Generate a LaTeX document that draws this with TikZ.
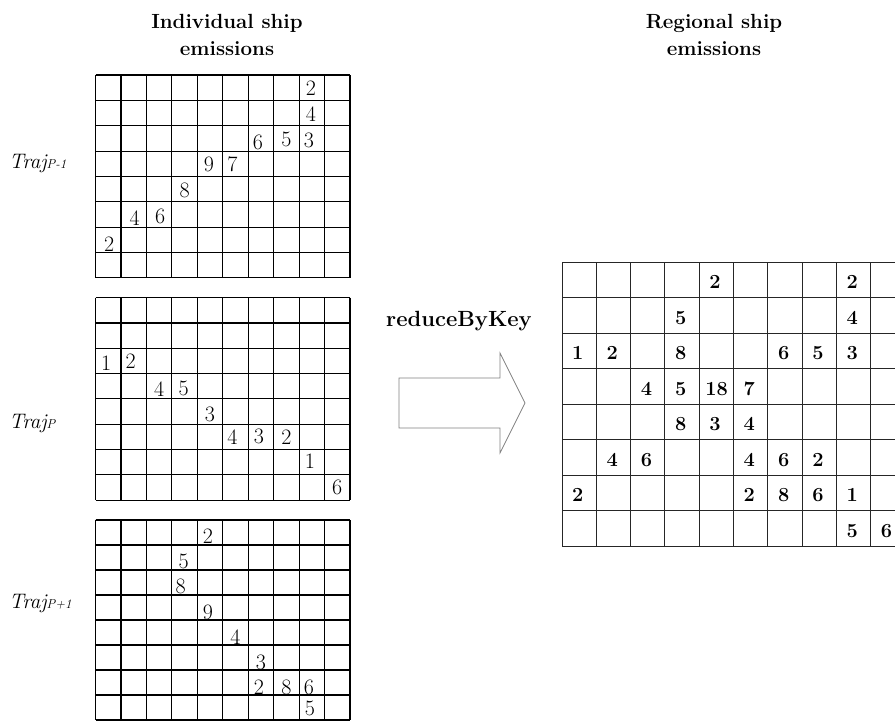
\documentclass[tikz,border=0pt]{standalone}
\usepackage{fontspec}
\begin{document}
\begin{tikzpicture}[x=1pt,y=-1pt,
  gridline/.style={draw=black,line width=1.1pt},
  rgridline/.style={draw=black!85,line width=0.9pt},
  ldig/.style={inner sep=0pt,font=\fontsize{22}{22}\selectfont},
  rdig/.style={inner sep=0pt,anchor=base west,font=\fontsize{20}{20}\selectfont\bfseries},
  titletext/.style={inner sep=0pt,anchor=base,font=\fontsize{20.5}{20.5}\selectfont\bfseries},
  trajlabel/.style={inner sep=0pt,anchor=base west,font=\fontsize{21}{21}\selectfont\itshape},
  blockarrow/.style={draw=black!50,line width=0.8pt,fill=white},
]
\useasboundingbox (0,0) rectangle (895,721);

% titles
\node[titletext] (t1a) at (227,28) {Individual ship};
\node[titletext] (t1b) at (227,55) {emissions};
\node[titletext] (t2a) at (714,28) {Regional ship};
\node[titletext] (t2b) at (714,55) {emissions};

% left grids
\foreach \gy/\h/\k in {75/25.35/1, 297.7/25.3/2, 520/25/3}{
  \foreach \i in {0,...,10}
    \draw[gridline] ({95.5+25.45*\i},\gy) -- ++(0,{8*\h});
  \foreach \j in {0,...,8}
    \draw[gridline] (95.5,{\gy+\h*\j}) -- ++(254.5,0);
}
\draw[line width=2.6pt] (95.5,520) -- ++(254.5,0);

% grid 1 digits: col/row/value/dx/dy
\foreach \c/\r/\v/\dx/\dy in {9/1/2/-1/1, 9/2/4/-1/1, 7/3/6/-3/4, 8/3/5/0/1, 9/3/3/-3/2,
  5/4/9/-1/1, 6/4/7/-3/0, 4/5/8/0/1, 2/6/4/1/4, 3/6/6/1/2, 1/7/2/1/4}
  \node[ldig] (a-\c-\r) at ({95.5+25.45*(\c-0.5)+\dx},{75+25.35*(\r-0.5)+\dy}) {\v};

% grid 2 digits
\foreach \c/\r/\v/\dx/\dy in {1/3/1/-2/2, 2/3/2/-3/0, 3/4/4/0/3, 4/4/5/-1/2, 5/5/3/0/3,
  6/6/4/-3/0, 7/6/3/-2/0, 8/6/2/0/0, 9/7/1/-2/-1, 10/8/6/0/0}
  \node[ldig] (b-\c-\r) at ({95.5+25.45*(\c-0.5)+\dx},{297.7+25.3*(\r-0.5)+\dy}) {\v};

% grid 3 digits
\foreach \c/\r/\v/\dx/\dy in {5/1/2/-2/4, 4/2/5/-1/4, 4/3/8/-4/4, 5/4/9/-2/5, 6/5/4/0/5,
  7/6/3/0/5, 7/7/2/-2/5, 8/7/8/0/5, 9/7/6/-3/5, 9/8/5/-2/1}
  \node[ldig] (c-\c-\r) at ({95.5+25.45*(\c-0.5)+\dx},{520+25*(\r-0.5)+\dy}) {\v};

% trajectory labels
\node[trajlabel] (tpm) at (9,168) {Traj{\fontsize{13}{13}\selectfont P-1}};
\node[trajlabel] (tp) at (9,428) {Traj{\fontsize{13}{13}\selectfont P}};
\node[trajlabel] (tpp) at (9,608) {Traj{\fontsize{13}{13}\selectfont P+1}};

% reduceByKey and block arrow
\node[inner sep=0pt,anchor=base,font=\fontsize{22}{22}\selectfont\bfseries] (rbk) at (459,326) {reduceByKey};
\draw[blockarrow] (399,378) -- (500,378) -- (500,353) -- (525,403) -- (500,453) -- (500,428) -- (399,428) -- cycle;

% right grid (clipped at the picture edge)
\begin{scope}
\clip (0,0) rectangle (895,721);
\foreach \i in {0,...,10}
  \draw[rgridline] ({562+34.3*\i},262) -- ++(0,284);
\foreach \j in {0,...,8}
  \draw[rgridline] (562,{262+35.5*\j}) -- ++(343,0);
\foreach \c/\r/\v in {5/1/2, 9/1/2, 4/2/5, 9/2/4, 1/3/1, 2/3/2, 4/3/8, 7/3/6, 8/3/5, 9/3/3,
  3/4/4, 4/4/5, 6/4/7, 4/5/8, 5/5/3, 6/5/4, 2/6/4, 3/6/6, 6/6/4, 7/6/6, 8/6/2,
  1/7/2, 6/7/2, 7/7/8, 8/7/6, 9/7/1, 9/8/5, 10/8/6}
  \node[rdig] (r-\c-\r) at ({562+34.3*(\c-1)+10},{262+35.5*\r-9}) {\v};
\node[rdig] (r-5-4) at ({562+34.3*4+6},{262+35.5*4-9}) {18};
\end{scope}
\end{tikzpicture}
\end{document}
